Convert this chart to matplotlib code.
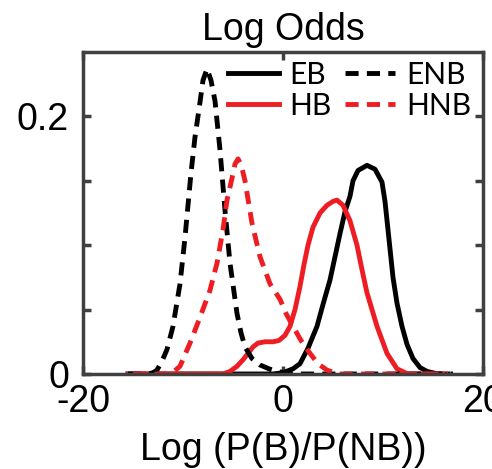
import numpy as np
import matplotlib.pyplot as plt

# log-odds density curves
eb_x = [-15.5, -1.0, 0.0, 1.0, 1.7, 2.5, 3.4, 4.0, 4.7, 5.7, 6.2, 6.7, 7.0, 7.5, 8.4, 9.2, 9.9,
        10.2, 10.5, 11.0, 11.4, 11.9, 12.4, 13.0, 13.7, 14.4, 15.5, 16.5]
eb_y = [0.0, 0.0, 0.001, 0.004, 0.008, 0.020, 0.037, 0.054, 0.073, 0.109, 0.126, 0.138, 0.150, 0.158,
        0.162, 0.159, 0.149, 0.134, 0.112, 0.075, 0.055, 0.037, 0.023, 0.012, 0.005, 0.002, 0.0, 0.0]

hb_x = [-15.5, -6.0, -5.3, -4.6, -4.0, -3.4, -3.0, -2.5, -1.8, -1.0, -0.4, 0.2, 0.7, 1.2, 1.7, 2.1,
        2.5, 3.0, 3.7, 4.4, 5.0, 5.4, 6.0, 6.7, 7.4, 7.9, 8.4, 9.4, 10.4, 11.4, 12.5, 16.0]
hb_y = [0.0, 0.0, 0.002, 0.006, 0.011, 0.017, 0.021, 0.024, 0.025, 0.025, 0.026, 0.030, 0.037, 0.050,
        0.068, 0.085, 0.100, 0.114, 0.125, 0.131, 0.134, 0.135, 0.131, 0.119, 0.100, 0.081, 0.063,
        0.037, 0.016, 0.004, 0.0, 0.0]

enb_x = [-15.5, -13.5, -13.0, -12.6, -12.1, -11.6, -11.0, -10.3, -9.8, -9.2, -8.8, -8.3, -8.0, -7.6,
         -7.2, -6.8, -6.3, -5.8, -5.3, -4.6, -4.2, -3.8, -3.1, -2.3, -1.4, -0.6, 1.0, 17.0]
enb_y = [0.0, 0.0, 0.001, 0.003, 0.010, 0.019, 0.037, 0.070, 0.106, 0.156, 0.184, 0.211, 0.228, 0.237,
         0.228, 0.212, 0.174, 0.127, 0.086, 0.047, 0.032, 0.021, 0.012, 0.007, 0.004, 0.002, 0.0, 0.0]

hnb_x = [-15.0, -11.5, -10.9, -10.3, -9.3, -8.3, -7.3, -6.6, -6.0, -5.6, -5.1, -4.8, -4.5, -4.2, -3.8,
         -3.1, -2.3, -1.3, -0.3, 0.3, 1.0, 1.8, 2.7, 3.5, 4.4, 5.5, 16.5]
hnb_y = [0.0, 0.0, 0.002, 0.006, 0.024, 0.044, 0.065, 0.086, 0.112, 0.135, 0.152, 0.163, 0.167, 0.163,
         0.150, 0.117, 0.091, 0.070, 0.058, 0.047, 0.037, 0.026, 0.016, 0.008, 0.003, 0.0, 0.0]

red = '#ee1d23'
x_ticks = [-20, 0, 20]
x_tick_labels = ['-20', '0', '20']
y_ticks = [0, 0.05, 0.1, 0.15, 0.2]
y_tick_labels = ['0', '', '', '', '0.2']

plt.rcParams['font.family'] = ['Liberation Sans', 'DejaVu Sans']

fig = plt.figure(figsize=(4.92, 4.69), dpi=100)
ax = fig.add_axes([0.1687, 0.2026, 0.813, 0.6865])

lw = 3.5
dash = (0, (2.7, 1.7))
ax.plot(eb_x, eb_y, color='black', lw=lw, label='EB', solid_joinstyle='round')
ax.plot(hb_x, hb_y, color=red, lw=lw, label='HB', solid_joinstyle='round')
ax.plot(enb_x, enb_y, color='black', lw=lw, ls=dash, label='ENB', dash_joinstyle='round')
ax.plot(hnb_x, hnb_y, color=red, lw=lw, ls=dash, label='HNB', dash_joinstyle='round')

ax.set_xlim(-20, 20)
ax.set_ylim(0, 0.25)
ax.set_xticks(x_ticks)
ax.set_xticklabels(x_tick_labels)
ax.set_yticks(y_ticks)
ax.set_yticklabels(y_tick_labels)
ax.tick_params(direction='in', length=6, width=2.5, color='#404040',
               labelsize=27, top=True, right=True)
ax.tick_params(axis='y', pad=10)
ax.tick_params(axis='x', pad=7)
for s in ax.spines.values():
    s.set_color('#404040')
    s.set_linewidth(2.5)

ax.set_title('Log Odds', fontsize=27, pad=9)
ax.set_xlabel('Log (P(B)/P(NB))', fontsize=27, labelpad=9)

handles, labels = ax.get_legend_handles_labels()
ax.legend(handles, labels, ncol=2, loc='upper right', frameon=False,
          prop={'family': 'Lato', 'size': 21.5}, handlelength=1.7,
          handletextpad=0.35, columnspacing=0.45, labelspacing=0.1,
          borderaxespad=0.0, bbox_to_anchor=(1.0, 1.01))

fig.savefig('out.png', dpi=100)
